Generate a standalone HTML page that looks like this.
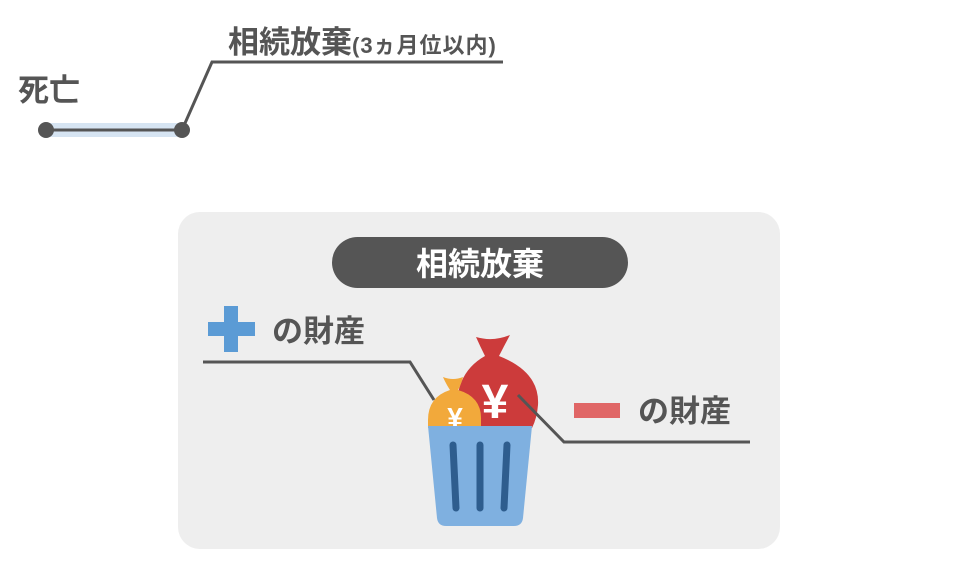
<!DOCTYPE html>
<html><head><meta charset="utf-8"><style>
html,body{margin:0;padding:0;background:#fff;}
svg{display:block}
text{font-family:"Liberation Sans","Noto Sans CJK JP",sans-serif;font-weight:bold;}
</style></head><body>
<svg width="956" height="562" viewBox="0 0 956 562" xmlns="http://www.w3.org/2000/svg">
<rect width="956" height="562" fill="#fff"/>
<text x="18" y="101" font-size="31" fill="#555">死亡</text>
<text x="228" y="53" font-size="31" fill="#555">相続放棄<tspan font-size="22" letter-spacing="1">(3ヵ月位以内)</tspan></text>
<polyline points="182,130 212,62 503,62" fill="none" stroke="#555" stroke-width="3"/>
<rect x="46" y="123" width="136" height="14" fill="#d6e4f2"/>
<line x1="46" y1="130" x2="182" y2="130" stroke="#555" stroke-width="3"/>
<circle cx="46" cy="130" r="8" fill="#555"/>
<circle cx="182" cy="130" r="8" fill="#555"/>

<rect x="178" y="212" width="602" height="337" rx="22" fill="#eeeeee"/>
<rect x="332" y="237" width="296" height="51" rx="25.5" fill="#555"/>
<text x="480" y="275" font-size="32" fill="#fff" text-anchor="middle">相続放棄</text>

<rect x="208" y="322" width="47" height="14" fill="#5b9bd5"/>
<rect x="224" y="306" width="14" height="46" fill="#5b9bd5"/>
<text x="272" y="342" font-size="31" fill="#555">の財産</text>
<polyline points="203,362 410,362 434,400" fill="none" stroke="#555" stroke-width="3"/>

<rect x="574" y="403" width="46" height="15" fill="#e06666"/>
<text x="638" y="422" font-size="31" fill="#555">の財産</text>

<!-- red bag -->
<path d="M476,337 Q493,342 510,335 Q504,346 499,356 Q540,372 538,405 Q537,418 532,428 L462,428 Q456,418 457,400 Q460,370 485,356 Q480,346 476,337 Z" fill="#cc3b3b"/>
<text x="495" y="418" font-size="48" fill="#fff" text-anchor="middle">¥</text>
<!-- orange bag -->
<path d="M443,377 Q453,381 463,377 Q461,385 458,390 Q482,397 481,420 L481,428 L428,428 L428,420 Q428,397 450,390 Q446,384 443,377 Z" fill="#f2a93b"/>
<text x="455" y="427" font-size="28" fill="#fff" text-anchor="middle">¥</text>
<polyline points="518,395 564,442 750,442" fill="none" stroke="#555" stroke-width="3"/>
<!-- bucket -->
<path d="M428,426 L532,426 L523,518 Q522,526 514,526 L446,526 Q438,526 437,518 Z" fill="#7fb0e0"/>
<g stroke="#2e5d8e" stroke-width="7" stroke-linecap="round">
<line x1="453" y1="445" x2="456" y2="508"/>
<line x1="480" y1="445" x2="480" y2="508"/>
<line x1="507" y1="445" x2="504" y2="508"/>
</g>
</svg>
</body></html>
